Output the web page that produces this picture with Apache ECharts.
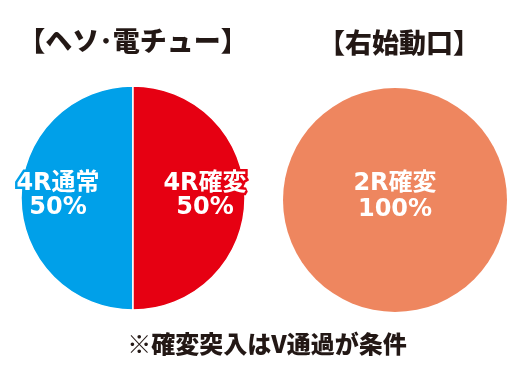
<!DOCTYPE html>
<html><head><meta charset="utf-8">
<script src="https://cdn.jsdelivr.net/npm/echarts@6/dist/echarts.min.js"></script>
<style>html,body{margin:0;padding:0;background:#fff}#c{width:528px;height:372px}</style>
</head><body><div id="c"></div>
<script>
const leftTitle = '【ヘソ･電チュー】';
const rightTitle = '【右始動口】';
const note = '※確変突入はV通過が条件';
const leftCategories = ['4R通常', '4R確変'];
const leftValues = [50, 50];
const rightCategories = ['2R確変'];
const rightValues = [100];
const leftColors = ['#00a0e9', '#e60012'];
const rightColors = ['#ee865f'];

const font = '"Noto Sans CJK JP", "Noto Sans", sans-serif';
const labelFont = '"DejaVu Sans", "Noto Sans CJK JP", sans-serif';
const chart = echarts.init(document.getElementById('c'), null, {renderer: 'canvas'});

function labelStyle(color) {
  return {
    show: true, color: '#fff', fontFamily: labelFont, fontWeight: 'bold', fontSize: 24,
    lineHeight: 24, textBorderColor: color, textBorderWidth: 5,
    formatter: p => p.name + '\n' + p.value + '%'
  };
}
const titleStyle = {fontFamily: font, fontWeight: 900, fontSize: 27, color: '#231815', lineHeight: 28};

chart.setOption({
  animation: false,
  title: [
    {text: leftTitle, left: 133, top: 26.5, textAlign: 'center', padding: 0, textStyle: titleStyle},
    {text: rightTitle, left: 399, top: 28.5, textAlign: 'center', padding: 0, textStyle: titleStyle},
    {text: note, left: 267, top: 331, textAlign: 'center', padding: 0,
     textStyle: Object.assign({}, titleStyle, {fontSize: 24, lineHeight: 26})}
  ],
  series: [
    {
      type: 'pie', center: [133, 198], radius: [0, 112], clockwise: false, startAngle: 90,
      silent: true,
      itemStyle: {borderColor: '#fff', borderWidth: 1.5},
      label: Object.assign(labelStyle('#000'), {position: 'inner'}),
      labelLine: {show: false},
      labelLayout: p => ({dx: p.dataIndex === 0 ? -16 : 13, dy: -2}),
      data: leftCategories.map((n, i) => ({
        name: n, value: leftValues[i],
        itemStyle: {color: leftColors[i]},
        label: {textBorderColor: leftColors[i]}
      }))
    },
    {
      type: 'pie', center: [395, 200], radius: [0, 112], silent: true,
      label: Object.assign(labelStyle(rightColors[0]), {position: 'center', textBorderWidth: 0, lineHeight: 26}),
      labelLine: {show: false},
      labelLayout: {dy: -3},
      data: rightCategories.map((n, i) => ({
        name: n, value: rightValues[i], itemStyle: {color: rightColors[i]}
      }))
    }
  ]
});
</script>
</body></html>
